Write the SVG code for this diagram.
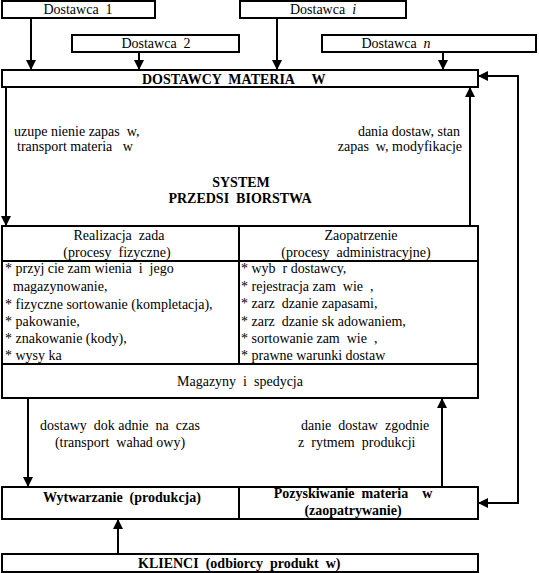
<svg xmlns="http://www.w3.org/2000/svg" width="539" height="573" viewBox="0 0 539 573">
<style>
.b{fill:#fff;stroke:#000;stroke-width:2}
.t{font-family:'Liberation Serif','Times New Roman',serif;font-size:14px;fill:#000;white-space:pre}
.bd{font-weight:bold}
.m{text-anchor:middle}
.e{text-anchor:end}
.c{fill:none;stroke:#000;stroke-width:2}
</style>
<defs>
<marker id="ah" markerUnits="userSpaceOnUse" markerWidth="10" markerHeight="10" refX="10" refY="5" orient="auto-start-reverse"><path d="M0,0 L10,5 L0,10 z" fill="#000"/></marker>
</defs>
<rect width="539" height="573" fill="#fff"/>
<g id="dostawca1"><rect class="b" x="2" y="1" width="153" height="17"/><text class="t m" x="78" y="14">Dostawca  1</text></g>
<g id="dostawcai"><rect class="b" x="240" y="1" width="166" height="17"/><text class="t m" x="323" y="14">Dostawca  <tspan font-style="italic">i</tspan></text></g>
<g id="dostawca2"><rect class="b" x="72" y="35" width="167" height="17"/><text class="t m" x="156" y="48">Dostawca  2</text></g>
<g id="dostawcan"><rect class="b" x="322" y="35" width="214" height="17"/><text class="t m" x="396" y="48">Dostawca  <tspan font-style="italic">n</tspan></text></g>
<g id="dostawcy"><rect class="b" x="2" y="70" width="476" height="17"/><text class="t bd" x="142" y="84">DOSTAWCY  MATERIA     W</text></g>
<g id="system">
<text class="t" x="14" y="136">uzupe nienie zapas  w,</text>
<text class="t" x="17" y="151">transport materia   w</text>
<text class="t e" x="460" y="136">dania dostaw, stan</text>
<text class="t e" x="462" y="151">zapas  w, modyfikacje</text>
<text class="t bd m" x="241" y="187">SYSTEM</text>
<text class="t bd m" x="240" y="203">PRZEDSI  BIORSTWA</text>
</g>
<g id="tabela">
<rect class="b" x="2" y="226" width="476" height="172"/>
<line class="c" x1="2" y1="261" x2="478" y2="261"/>
<line class="c" x1="2" y1="364" x2="478" y2="364"/>
<line class="c" x1="239" y1="226" x2="239" y2="364"/>
<text class="t m" x="119" y="240">Realizacja  zada</text>
<text class="t m" x="117" y="257">(procesy  fizyczne)</text>
<text class="t m" x="361" y="240">Zaopatrzenie</text>
<text class="t m" x="356" y="257">(procesy  administracyjne)</text>
<text class="t" x="5" y="273">* przyj cie zam wienia  i  jego</text>
<text class="t" x="13" y="291">magazynowanie,</text>
<text class="t" x="5" y="309">* fizyczne sortowanie (kompletacja),</text>
<text class="t" x="5" y="326">* pakowanie,</text>
<text class="t" x="5" y="343">* znakowanie (kody),</text>
<text class="t" x="5" y="360">* wysy ka</text>
<text class="t" x="241" y="273">* wyb  r dostawcy,</text>
<text class="t" x="241" y="291">* rejestracja zam  wie  ,</text>
<text class="t" x="241" y="308">* zarz  dzanie zapasami,</text>
<text class="t" x="241" y="326">* zarz  dzanie sk adowaniem,</text>
<text class="t" x="241" y="343">* sortowanie zam  wie  ,</text>
<text class="t" x="241" y="360">* prawne warunki dostaw</text>
<text class="t m" x="240" y="386">Magazyny  i  spedycja</text>
</g>
<g id="etykiety">
<text class="t m" x="120" y="430">dostawy  dok adnie  na  czas</text>
<text class="t m" x="120" y="447">(transport  wahad owy)</text>
<text class="t" x="301" y="430">danie  dostaw  zgodnie</text>
<text class="t" x="298" y="447">z  rytmem  produkcji</text>
</g>
<g id="wytwarzanie"><rect class="b" x="2" y="487" width="237" height="32"/><text class="t bd m" x="122" y="502">Wytwarzanie  (produkcja)</text></g>
<g id="pozyskiwanie"><rect class="b" x="239" y="487" width="239" height="32"/><text class="t bd m" x="353" y="498">Pozyskiwanie  materia    w</text><text class="t bd m" x="353" y="515">(zaopatrywanie)</text></g>
<g id="klienci"><rect class="b" x="2" y="554" width="476" height="18"/><text class="t bd" x="138" y="568">KLIENCI  (odbiorcy  produkt  w)</text></g>
<g id="connectors">
<path class="c" d="M31,18 V70" marker-end="url(#ah)"/>
<path class="c" d="M139,52 V70" marker-end="url(#ah)"/>
<path class="c" d="M277,18 V70" marker-end="url(#ah)"/>
<path class="c" d="M443,52 V70" marker-end="url(#ah)"/>
<path class="c" d="M6,87 V226" marker-end="url(#ah)"/>
<path class="c" d="M470,226 V87" marker-end="url(#ah)"/>
<path class="c" d="M478,76 H518 V503 H478" marker-start="url(#ah)" marker-end="url(#ah)"/>
<path class="c" d="M28,398 V487" marker-end="url(#ah)"/>
<path class="c" d="M442,487 V398" marker-end="url(#ah)"/>
<path class="c" d="M118,554 V519" marker-end="url(#ah)"/>
</g>
</svg>
